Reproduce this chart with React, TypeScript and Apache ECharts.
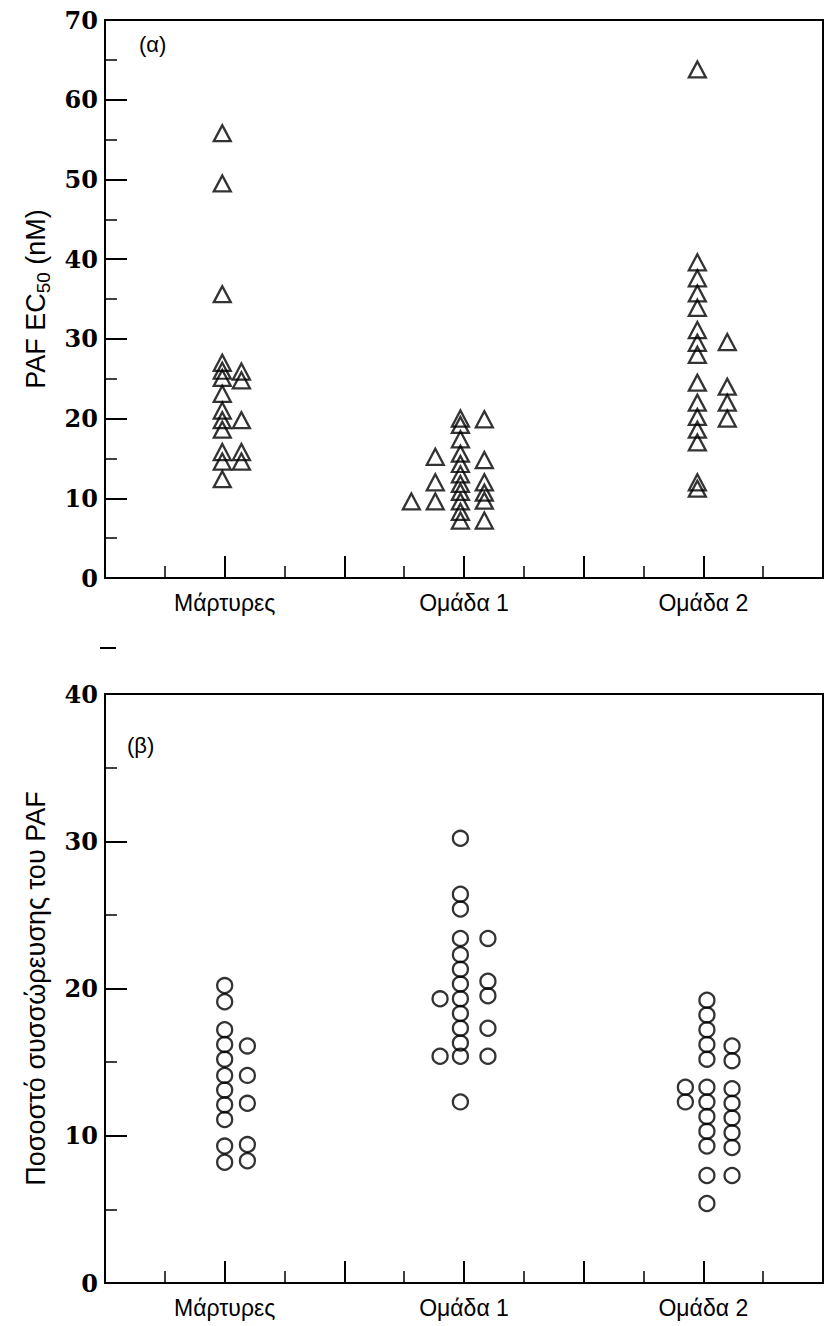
import React, { useEffect, useRef } from "react";
import * as echarts from "echarts";

// Categories and their positions on the value x-axis
const categories = ["Μάρτυρες", "Ομάδα 1", "Ομάδα 2"];
const categoryPos = [1, 3, 5];

// Panel (α): PAF EC50 (nM) — triangles, grouped in columns
const aCtrlMain = [55.8, 49.5, 35.6, 27, 26, 25.1, 23.1, 21, 19.8, 18.6, 15.8, 14.6, 12.4];
const aCtrlSide = [25.9, 24.8, 19.8, 15.8, 14.6];
const aG1Left = [9.6];
const aG1Left2 = [15.2, 12, 9.6];
const aG1Main = [20, 19.2, 17.4, 15.6, 14.3, 13, 11.8, 10.8, 9.6, 8.3, 7.2];
const aG1Right = [19.9, 14.8, 12, 10.7, 9.7, 7.2];
const aG2Main = [63.8, 39.6, 37.6, 35.7, 33.9, 31.1, 29.5, 28, 24.5, 22, 20.2, 18.6, 17, 12, 11.2];
const aG2Right = [29.6, 24, 22, 20];

// Panel (β): Ποσοστό συσσώρευσης του PAF — circles
const bCtrlMain = [20.2, 19.1, 17.2, 16.2, 15.2, 14.1, 13.1, 12.1, 11.1, 9.3, 8.2];
const bCtrlSide = [16.1, 14.1, 12.2, 9.4, 8.3];
const bG1Left = [19.3, 15.4];
const bG1Main = [30.2, 26.4, 25.4, 23.4, 22.3, 21.3, 20.3, 19.3, 18.3, 17.3, 16.3, 15.4, 12.3];
const bG1Right = [23.4, 20.5, 19.5, 17.3, 15.4];
const bG2Left = [13.3, 12.3];
const bG2Main = [19.2, 18.2, 17.2, 16.2, 15.2, 13.3, 12.3, 11.3, 10.3, 9.3, 7.3, 5.4];
const bG2Right = [16.1, 15.1, 13.2, 12.2, 11.2, 10.2, 9.2, 7.3];

// y tick ranges
const aYMax = 70;
const bYMax = 40;

function col(x: number, ys: number[]) {
  return ys.map((y) => [x, y]);
}

const FONT_SANS = "'Liberation Sans', Arial, sans-serif";
const FONT_NARROW = "'Liberation Sans Narrow', 'Arial Narrow', 'Liberation Sans', sans-serif";
const FONT_SERIF = "'DejaVu Serif', serif";

function makeX(gridIndex: number) {
  return {
    type: "value",
    gridIndex,
    min: 0,
    max: 6,
    interval: 1,
    axisLine: { show: true, lineStyle: { color: "#000", width: 2 } },
    axisTick: { show: true, inside: true, length: 22, lineStyle: { color: "#000", width: 2 } },
    minorTick: { show: true, splitNumber: 2, length: 12, lineStyle: { color: "#000", width: 1.5 } },
    splitLine: { show: false },
    axisLabel: {
      color: "#000",
      fontFamily: FONT_NARROW,
      fontSize: 23,
      margin: 13,
      formatter: (v: number) => {
        const i = categoryPos.indexOf(Math.round(v));
        return i >= 0 && Math.abs(v - categoryPos[i]) < 1e-6 ? categories[i] : "";
      },
    },
  };
}

function makeY(gridIndex: number, max: number, name: string, rich: any) {
  return {
    type: "value",
    gridIndex,
    min: 0,
    max,
    interval: 10,
    name,
    nameLocation: "middle",
    nameRotate: 90,
    nameGap: 52,
    nameTextStyle: { rich },
    axisLine: { show: true, lineStyle: { color: "#000", width: 2 } },
    axisTick: { show: true, inside: true, length: 22, lineStyle: { color: "#000", width: 2 } },
    minorTick: { show: true, splitNumber: 2, length: 12, lineStyle: { color: "#000", width: 1.5 } },
    splitLine: { show: false },
    axisLabel: {
      color: "#000",
      fontFamily: FONT_SERIF,
      fontWeight: "bold",
      fontSize: 24,
      margin: 7,
    },
  };
}

const triStyle = {
  symbol: "triangle",
  symbolSize: [17, 16],
  itemStyle: { color: "rgba(0,0,0,0)", borderColor: "#000", borderWidth: 2.3 },
};
const circStyle = {
  symbol: "circle",
  symbolSize: 15,
  itemStyle: { color: "rgba(0,0,0,0)", borderColor: "#000", borderWidth: 2.3 },
};

export default function App() {
  const ref = useRef<HTMLDivElement>(null);
  useEffect(() => {
    if (!ref.current) return;
    const chart = echarts.init(ref.current, undefined, { renderer: "svg" });
    const aData = [
      ...col(0.98, aCtrlMain),
      ...col(1.14, aCtrlSide),
      ...col(2.56, aG1Left),
      ...col(2.76, aG1Left2),
      ...col(2.97, aG1Main),
      ...col(3.17, aG1Right),
      ...col(4.95, aG2Main),
      ...col(5.2, aG2Right),
    ];
    const bData = [
      ...col(1.0, bCtrlMain),
      ...col(1.19, bCtrlSide),
      ...col(2.8, bG1Left),
      ...col(2.97, bG1Main),
      ...col(3.2, bG1Right),
      ...col(4.85, bG2Left),
      ...col(5.03, bG2Main),
      ...col(5.24, bG2Right),
    ];
    const nameRich = {
      a: { fontFamily: FONT_NARROW, fontSize: 27, color: "#000", lineHeight: 34 },
      s: { fontFamily: FONT_NARROW, fontSize: 19, color: "#000", lineHeight: 16, verticalAlign: "bottom" },
    };
    chart.setOption({
      animation: false,
      backgroundColor: "#fff",
      grid: [
        { left: 105, right: 4, top: 20, height: 558, show: true, borderColor: "#000", borderWidth: 2, backgroundColor: "transparent" },
        { left: 105, right: 4, top: 694, height: 589, show: true, borderColor: "#000", borderWidth: 2, backgroundColor: "transparent" },
      ],
      xAxis: [makeX(0), makeX(1)],
      yAxis: [
        makeY(0, aYMax, "{a|PAF EC}{s|50}{a| (nM)}", nameRich),
        makeY(1, bYMax, "{a|Ποσοστό συσσώρευσης του PAF}", nameRich),
      ],
      series: [
        { type: "scatter", xAxisIndex: 0, yAxisIndex: 0, data: aData, ...triStyle },
        { type: "scatter", xAxisIndex: 1, yAxisIndex: 1, data: bData, ...circStyle },
      ],
      graphic: [
        { type: "text", left: 139, top: 33, style: { text: "(α)", fontFamily: FONT_NARROW, fontSize: 22, fill: "#000" } },
        { type: "text", left: 127, top: 734, style: { text: "(β)", fontFamily: FONT_NARROW, fontSize: 22, fill: "#000" } },
        { type: "line", shape: { x1: 100, y1: 648, x2: 116, y2: 648 }, style: { stroke: "#000", lineWidth: 2 } },
      ],
    });
    return () => chart.dispose();
  }, []);
  return (
    <div
      ref={ref}
      style={{ position: "absolute", left: 0, top: 0, width: 827, height: 1326, background: "#fff" }}
    />
  );
}
